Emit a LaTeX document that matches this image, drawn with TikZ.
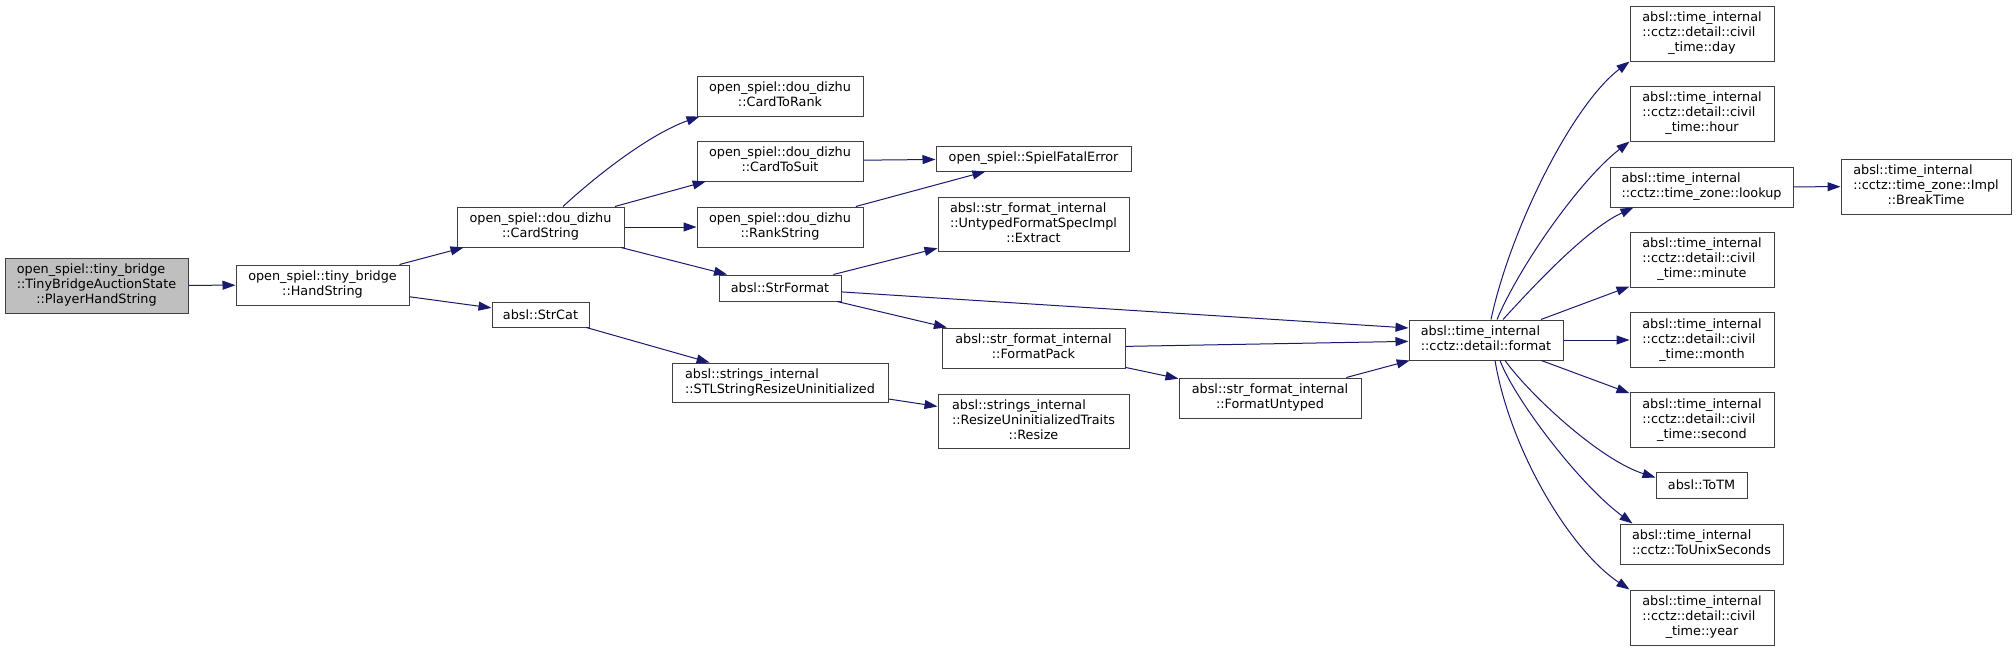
\documentclass[tikz,border=0pt]{standalone}
\usepackage{fontspec}
\setmainfont{DejaVu Sans}
\usetikzlibrary{arrows.meta,calc}
\definecolor{edgeblue}{HTML}{191970}
\definecolor{boxline}{HTML}{404040}
\definecolor{rootfill}{HTML}{BFBFBF}
\newcommand{\nodelab}[1]{\begin{tabular}{@{}l@{}}#1\end{tabular}}
\newcommand{\ctrline}[1]{\multicolumn{1}{@{}c@{}}{#1}}
\tikzset{
  fnbox/.style={draw=boxline, line width=1pt, fill=white, inner sep=0pt, rectangle,
    font=\fontsize{12.8pt}{15pt}\selectfont, text=black},
  rootbox/.style={fnbox, fill=rootfill},
  call/.style={draw=edgeblue, line width=1pt, -{Triangle[length=13pt,width=9pt]}, edgeblue}
}
\begin{document}
\begin{tikzpicture}[x=1pt,y=-1pt]
\useasboundingbox (0,0) rectangle (2016,651);

% nodes
\node[rootbox, minimum width=183pt, minimum height=55pt] (phs) at (96.5,285.5)
  {\nodelab{open\_spiel::tiny\_bridge\\::TinyBridgeAuctionState\\\ctrline{::PlayerHandString}}};
\node[fnbox, minimum width=173pt, minimum height=40pt] (hand) at (322.5,285)
  {\nodelab{open\_spiel::tiny\_bridge\\\ctrline{::HandString}}};
\node[fnbox, minimum width=167pt, minimum height=40pt] (cardstr) at (540.5,227)
  {\nodelab{open\_spiel::dou\_dizhu\\\ctrline{::CardString}}};
\node[fnbox, minimum width=97pt, minimum height=25pt] (strcat) at (540.5,314.5)
  {absl::StrCat};
\node[fnbox, minimum width=166pt, minimum height=40pt] (ctr) at (780,96)
  {\nodelab{open\_spiel::dou\_dizhu\\\ctrline{::CardToRank}}};
\node[fnbox, minimum width=166pt, minimum height=40pt] (cts) at (780,161)
  {\nodelab{open\_spiel::dou\_dizhu\\\ctrline{::CardToSuit}}};
\node[fnbox, minimum width=166pt, minimum height=40pt] (rank) at (780,227)
  {\nodelab{open\_spiel::dou\_dizhu\\\ctrline{::RankString}}};
\node[fnbox, minimum width=122pt, minimum height=26pt] (strfmt) at (780,288)
  {absl::StrFormat};
\node[fnbox, minimum width=216pt, minimum height=39pt] (stl) at (780,382.5)
  {\nodelab{absl::strings\_internal\\\ctrline{::STLStringResizeUninitialized}}};
\node[fnbox, minimum width=195pt, minimum height=25pt] (fatal) at (1033.5,158.5)
  {open\_spiel::SpielFatalError};
\node[fnbox, minimum width=191pt, minimum height=54pt] (extract) at (1033.5,224)
  {\nodelab{absl::str\_format\_internal\\::UntypedFormatSpecImpl\\\ctrline{::Extract}}};
\node[fnbox, minimum width=183pt, minimum height=40pt] (fpack) at (1033.5,348)
  {\nodelab{absl::str\_format\_internal\\\ctrline{::FormatPack}}};
\node[fnbox, minimum width=191pt, minimum height=54pt] (resize) at (1033.5,421)
  {\nodelab{absl::strings\_internal\\::ResizeUninitializedTraits\\\ctrline{::Resize}}};
\node[fnbox, minimum width=182pt, minimum height=40pt] (funt) at (1270,398)
  {\nodelab{absl::str\_format\_internal\\\ctrline{::FormatUntyped}}};
\node[fnbox, minimum width=154pt, minimum height=40pt] (format) at (1486,340)
  {\nodelab{absl::time\_internal\\\ctrline{::cctz::detail::format}}};
\node[fnbox, minimum width=144pt, minimum height=55pt] (day) at (1702,33.5)
  {\nodelab{absl::time\_internal\\::cctz::detail::civil\\\ctrline{\_time::day}}};
\node[fnbox, minimum width=144pt, minimum height=55pt] (hour) at (1702,113.5)
  {\nodelab{absl::time\_internal\\::cctz::detail::civil\\\ctrline{\_time::hour}}};
\node[fnbox, minimum width=183pt, minimum height=40pt] (lookup) at (1701.5,187)
  {\nodelab{absl::time\_internal\\\ctrline{::cctz::time\_zone::lookup}}};
\node[fnbox, minimum width=170pt, minimum height=55pt] (breakt) at (1926,186.5)
  {\nodelab{absl::time\_internal\\::cctz::time\_zone::Impl\\\ctrline{::BreakTime}}};
\node[fnbox, minimum width=144pt, minimum height=55pt] (minute) at (1702,259.5)
  {\nodelab{absl::time\_internal\\::cctz::detail::civil\\\ctrline{\_time::minute}}};
\node[fnbox, minimum width=144pt, minimum height=55pt] (month) at (1702,340)
  {\nodelab{absl::time\_internal\\::cctz::detail::civil\\\ctrline{\_time::month}}};
\node[fnbox, minimum width=144pt, minimum height=55pt] (second) at (1702,420)
  {\nodelab{absl::time\_internal\\::cctz::detail::civil\\\ctrline{\_time::second}}};
\node[fnbox, minimum width=91pt, minimum height=26pt] (totm) at (1701.5,485)
  {absl::ToTM};
\node[fnbox, minimum width=163pt, minimum height=40pt] (unix) at (1701.5,544)
  {\nodelab{absl::time\_internal\\\ctrline{::cctz::ToUnixSeconds}}};
\node[fnbox, minimum width=144pt, minimum height=55pt] (year) at (1702,617.5)
  {\nodelab{absl::time\_internal\\::cctz::detail::civil\\\ctrline{\_time::year}}};

% straight calls
\draw[call] (phs) -- (hand);
\draw[call] (hand) -- (cardstr);
\draw[call] (hand) -- (strcat);
\draw[call] ($(cardstr.north)+(22.5,0)$) .. controls (597,175) and (650,134) .. ($(ctr.south west)+(3,0)$);
\draw[call] (cardstr) -- (cts);
\draw[call] (cardstr) -- (rank);
\draw[call] (cardstr) -- (strfmt);
\draw[call] (cts) -- (fatal);
\draw[call] (rank) -- (fatal);
\draw[call] (strfmt) -- (extract);
\draw[call] (strfmt) -- ($(format.west)+(0,-12)$);
\draw[call] (strfmt) -- (fpack);
\draw[call] (fpack) -- (format);
\draw[call] (fpack) -- (funt);
\draw[call] (funt) -- (format);
\draw[call] (strcat) -- (stl);
\draw[call] (stl) -- (resize);
\draw[call] (lookup) -- (breakt);

% fan-out from format
\draw[call] ($(format.north)+(5,0)$) .. controls (1510,230) and (1572,105) .. (day.south west);
\draw[call] ($(format.north)+(11,0)$) .. controls (1520,265) and (1580,180) .. (hour.south west);
\draw[call] ($(format.north)+(17,0)$) .. controls (1530,290) and (1585,230) .. ($(lookup.south west)+(24,0)$);
\draw[call] (format) -- (minute);
\draw[call] (format) -- (month);
\draw[call] (format) -- (second);
\draw[call] ($(format.south)+(19,0)$) .. controls (1530,395) and (1600,460) .. ($(totm.north west)+(0,6)$);
\draw[call] ($(format.south)+(14,0)$) .. controls (1515,400) and (1580,485) .. ($(unix.north west)+(13,0)$);
\draw[call] ($(format.south)+(9,0)$) .. controls (1510,450) and (1570,550) .. (year.north west);
\end{tikzpicture}
\end{document}
